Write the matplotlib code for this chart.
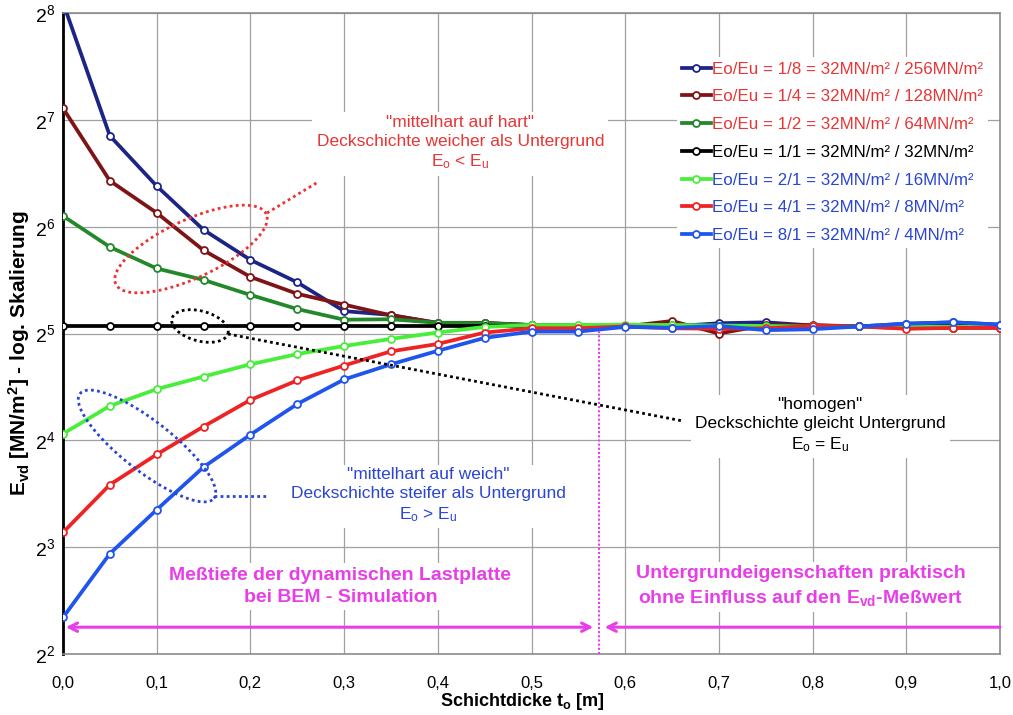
import numpy as np
import matplotlib
matplotlib.use('Agg')
import matplotlib.pyplot as plt
from matplotlib.ticker import FixedLocator, NullLocator, LogFormatterSciNotation

plt.rcParams['font.family'] = ['Liberation Sans', 'DejaVu Sans']
plt.rcParams['mathtext.fontset'] = 'custom'
plt.rcParams['mathtext.rm'] = 'Liberation Sans'
plt.rcParams['mathtext.it'] = 'Liberation Sans:italic'
plt.rcParams['mathtext.bf'] = 'Liberation Sans:bold'
plt.rcParams['mathtext.default'] = 'regular'

# Schichtdicke t_o [m]
thickness = [0.0, 0.05, 0.1, 0.15, 0.2, 0.25, 0.3, 0.35, 0.4, 0.45, 0.5,
             0.55, 0.6, 0.65, 0.7, 0.75, 0.8, 0.85, 0.9, 0.95, 1.0]
xtick_values = [0.0, 0.1, 0.2, 0.3, 0.4, 0.5, 0.6, 0.7, 0.8, 0.9, 1.0]
xtick_labels = ['0,0', '0,1', '0,2', '0,3', '0,4', '0,5', '0,6', '0,7', '0,8', '0,9', '1,0']
ytick_values = [4, 8, 16, 32, 64, 128, 256]

# E_vd [MN/m²] per Eo/Eu ratio
evd_1_8 = [274.0, 115.4, 83.3, 62.7, 51.6, 44.6, 37.0, 36.1, 34.2, 34.2, 33.8,
           33.7, 33.5, 33.5, 34.2, 34.4, 33.7, 33.5, 34.1, 34.4, 33.9]
evd_1_4 = [138.0, 86.2, 70.0, 54.9, 46.2, 41.4, 38.6, 36.0, 34.3, 34.3, 33.8,
           33.6, 33.5, 34.7, 32.0, 33.8, 33.8, 33.5, 33.1, 33.2, 33.2]
evd_1_2 = [68.6, 56.1, 48.8, 45.3, 41.1, 37.5, 35.0, 35.1, 34.3, 34.2, 33.8,
           33.7, 33.7, 33.8, 33.6, 33.6, 33.5, 33.5, 33.4, 33.2, 33.4]
evd_1_1 = [33.5, 33.5, 33.5, 33.5, 33.5, 33.5, 33.5, 33.5, 33.5, 33.5, 33.5,
           33.5, 33.5, 33.5, 33.5, 33.5, 33.5, 33.5, 33.5, 33.5, 33.5]
evd_2_1 = [16.7, 20.0, 22.3, 24.2, 26.2, 28.0, 29.5, 30.9, 32.2, 33.4, 33.8,
           33.8, 33.9, 33.8, 33.7, 33.6, 33.5, 33.5, 33.4, 33.4, 33.4]
evd_4_1 = [8.8, 12.0, 14.6, 17.5, 20.8, 23.6, 26.0, 28.5, 29.9, 32.2, 33.1,
           33.1, 33.5, 33.1, 33.0, 33.1, 33.6, 33.5, 33.0, 33.2, 33.2]
evd_8_1 = [5.07, 7.67, 10.2, 13.45, 16.6, 20.25, 23.75, 26.2, 28.6, 31.1, 32.4,
           32.4, 33.4, 33.2, 33.6, 32.7, 32.9, 33.5, 34.1, 34.4, 33.9]

series = [evd_1_8, evd_1_4, evd_1_2, evd_1_1, evd_2_1, evd_4_1, evd_8_1]
labels = ['Eo/Eu = 1/8 = 32MN/m² / 256MN/m²',
          'Eo/Eu = 1/4 = 32MN/m² / 128MN/m²',
          'Eo/Eu = 1/2 = 32MN/m² / 64MN/m²',
          'Eo/Eu = 1/1 = 32MN/m² / 32MN/m²',
          'Eo/Eu = 2/1 = 32MN/m² / 16MN/m²',
          'Eo/Eu = 4/1 = 32MN/m² / 8MN/m²',
          'Eo/Eu = 8/1 = 32MN/m² / 4MN/m²']
line_colors = ['#1c2585', '#7e1416', '#23882a', '#000000', '#48ee3a', '#ee2424', '#1f55ee']

RED_TXT = '#e83535'
BLUE_TXT = '#2a45d2'
MAGENTA = '#e83ee8'
text_colors = [RED_TXT, RED_TXT, RED_TXT, 'black', BLUE_TXT, BLUE_TXT, BLUE_TXT]

boundary_depth = 0.572

fig = plt.figure(figsize=(10.13, 7.15), dpi=100)
ax = fig.add_axes([63 / 1013, 61 / 715, 937 / 1013, 641 / 715])
AX_W, AX_H = 937.0, 641.0

for vals, col, lab in zip(series, line_colors, labels):
    ax.plot(thickness, vals, color=col, lw=2.7, marker='o', ms=5,
            mfc='white', mec=col, mew=1.3, label=lab, zorder=3)

ax.set_yscale('log', base=2)
ax.set_xlim(0, 1.0)
ax.set_ylim(4, 256)
ax.yaxis.set_major_locator(FixedLocator(ytick_values))
ax.yaxis.set_major_formatter(LogFormatterSciNotation(base=2))
ax.yaxis.set_minor_locator(NullLocator())
ax.set_xticks(xtick_values)
ax.set_xticklabels(xtick_labels, family=['Liberation Sans Narrow', 'Liberation Sans'])
ax.tick_params(axis='x', length=0, pad=16, labelsize=12)
ax.tick_params(axis='y', length=0, pad=6, labelsize=14)
ax.grid(True, color='#a0a0a0', lw=0.9)
ax.set_axisbelow(True)

for side in ['top', 'right', 'bottom']:
    ax.spines[side].set_color('#8c8c8c')
    ax.spines[side].set_linewidth(1.2)
ax.spines['left'].set_color('black')
ax.spines['left'].set_linewidth(2)

ax.set_xlabel('Schichtdicke t$_o$ [m]', fontsize=13, fontweight='bold')
ax.xaxis.set_label_coords(0.49, -0.058)
ax.set_ylabel('E$_{vd}$ [MN/m$^2$] - log. Skalierung', fontsize=15, fontweight='bold')
ax.yaxis.set_label_coords(-0.033, 0.47)

leg = ax.legend(loc='upper left', bbox_to_anchor=(0.655, 0.932), fontsize=12.2,
                frameon=True, fancybox=False, edgecolor='none', facecolor='white',
                framealpha=1, handlelength=1.7, handletextpad=0.1,
                labelspacing=0.75, borderpad=0.3, borderaxespad=0)
for txt, c in zip(leg.get_texts(), text_colors):
    txt.set_color(c)


def ellipse(cx, cy, a, b, ang, color):
    # cx, cy, a, b in pixels inside the axes box
    t = np.linspace(0, 2 * np.pi, 300)
    th = np.deg2rad(ang)
    px = cx + a * np.cos(t) * np.cos(th) - b * np.sin(t) * np.sin(th)
    py = cy + a * np.cos(t) * np.sin(th) + b * np.sin(t) * np.cos(th)
    ax.plot(px / AX_W, py / AX_H, transform=ax.transAxes, color=color,
            lw=2, ls=(0, (1, 1.2)), zorder=4)


def dotted(p0, p1, color):
    ax.plot([p0[0] / AX_W, p1[0] / AX_W], [p0[1] / AX_H, p1[1] / AX_H],
            transform=ax.transAxes, color=color, lw=2, ls=(0, (1, 1.2)), zorder=4)


# "mittelhart auf hart"
ellipse(128, 405, 83, 29, 25, '#ee3030')
dotted((204, 441), (255, 472), '#ee3030')
# "homogen"
ellipse(137, 328, 29, 15, -15, 'black')
dotted((165, 320), (620, 233), 'black')
# "mittelhart auf weich"
ellipse(84, 208, 85, 25, -38, '#2a45d2')
dotted((151, 158), (203, 158), '#2a45d2')

bbox = dict(facecolor='white', edgecolor='none', pad=3)
ax.text(0.424, 110, '"mittelhart auf hart"\nDeckschichte weicher als Untergrund\nE$_o$ < E$_u$',
        color=RED_TXT, fontsize=12.5, ha='center', va='center', linespacing=1.3, bbox=bbox, zorder=5)
ax.text(0.808, 17.6, '"homogen"\nDeckschichte gleicht Untergrund\nE$_o$ = E$_u$',
        color='black', fontsize=12.5, ha='center', va='center', linespacing=1.3, bbox=bbox, zorder=5)
ax.text(0.39, 11.2, '"mittelhart auf weich"\nDeckschichte steifer als Untergrund\nE$_o$ > E$_u$',
        color=BLUE_TXT, fontsize=12.5, ha='center', va='center', linespacing=1.3, bbox=bbox, zorder=5)

ax.text(0.296, 6.2, 'Meßtiefe der dynamischen Lastplatte\nbei BEM - Simulation',
        color=MAGENTA, fontsize=14, fontweight='bold', ha='center', va='center',
        linespacing=1.35, bbox=bbox, zorder=5)
ax.text(0.787, 6.2, 'Untergrundeigenschaften praktisch\nohne Einfluss auf den E$_{vd}$-Meßwert',
        color=MAGENTA, fontsize=14, fontweight='bold', ha='center', va='center',
        linespacing=1.35, bbox=bbox, zorder=5)

arrow_y = 4.76
ax.plot([boundary_depth, boundary_depth], [4, 32.7], color=MAGENTA, lw=1.5,
        ls=(0, (1, 1)), zorder=4)
ax.annotate('', xy=(0.003, arrow_y), xytext=(boundary_depth - 0.006, arrow_y),
            arrowprops=dict(arrowstyle='<->,head_length=0.6,head_width=0.3',
                            color=MAGENTA, lw=2.2, shrinkA=0, shrinkB=0), zorder=5)
ax.annotate('', xy=(boundary_depth + 0.006, arrow_y), xytext=(1.0, arrow_y),
            arrowprops=dict(arrowstyle='->,head_length=0.6,head_width=0.3',
                            color=MAGENTA, lw=2.2, shrinkA=0, shrinkB=0), zorder=5)

fig.savefig('out.png', dpi=100)
